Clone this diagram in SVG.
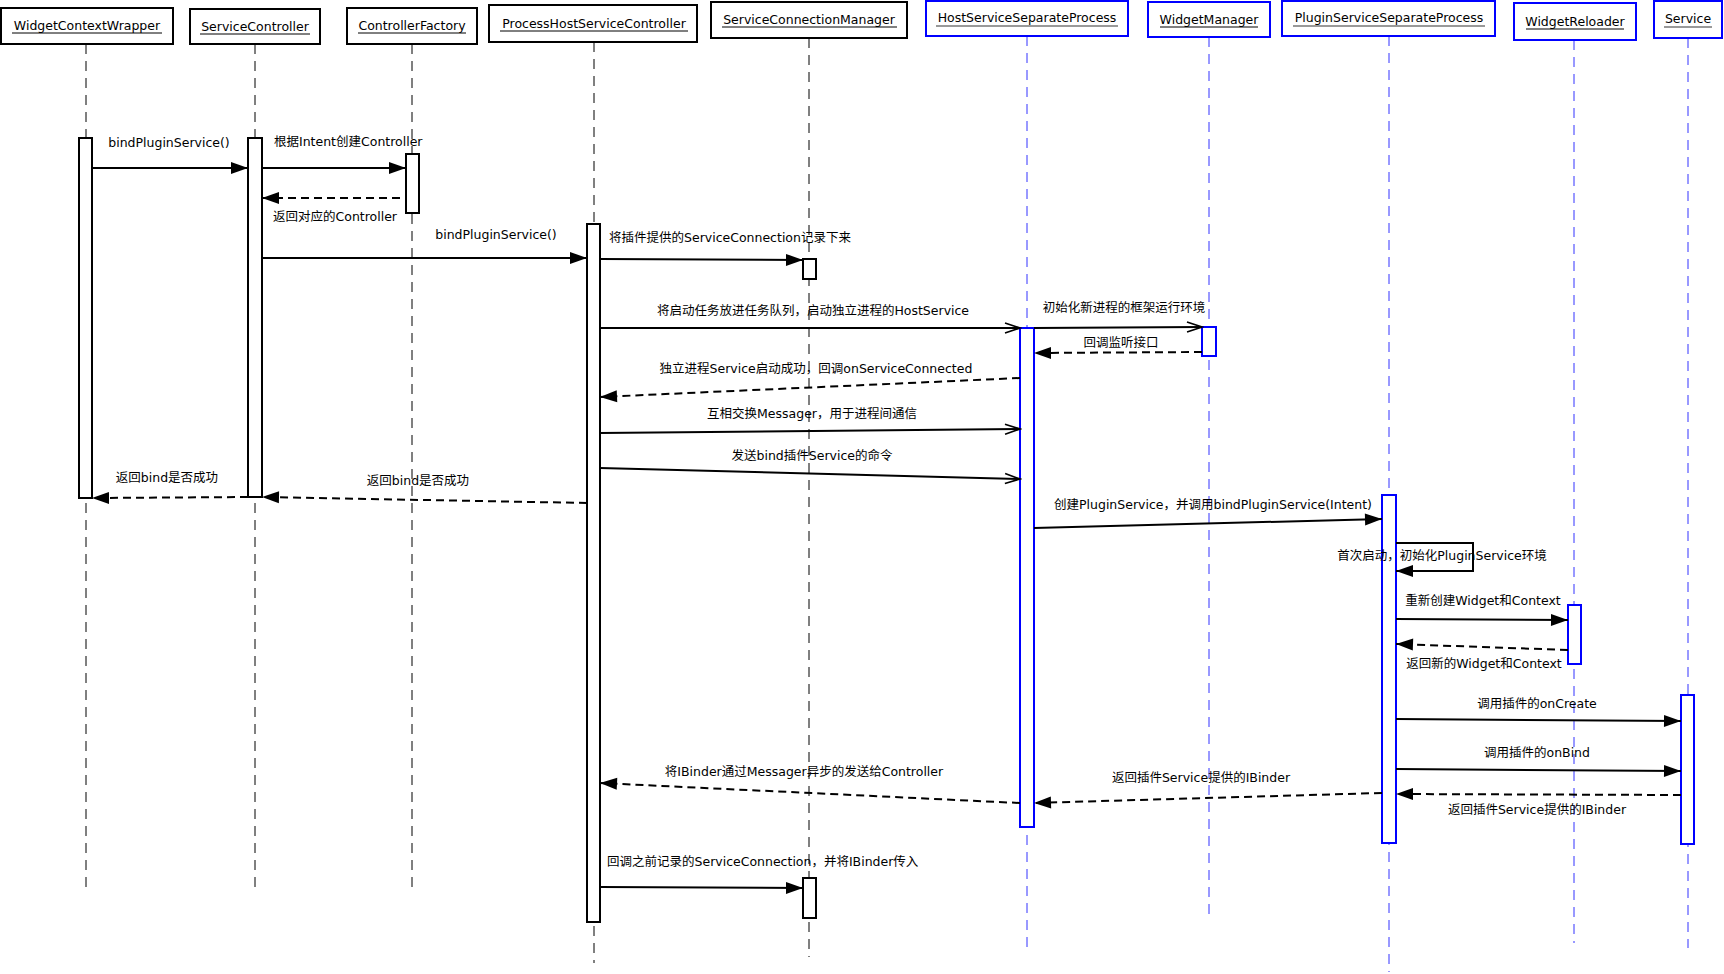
<svg xmlns="http://www.w3.org/2000/svg" width="1724" height="974" viewBox="0 0 1724 974">
<style>
text{font-family:"DejaVu Sans","Noto Sans CJK SC",sans-serif;font-size:12.5px;fill:#000}
.hb{fill:#fff;stroke:#000;stroke-width:2}
.hbb{fill:#fff;stroke:#0000ff;stroke-width:2}
.ll{stroke:#000;stroke-width:1;stroke-dasharray:10 7}
.llb{stroke:#3333ff;stroke-width:1;stroke-dasharray:10 7}
.act{fill:#fff;stroke:#000;stroke-width:2}
.actb{fill:#fff;stroke:#0000ff;stroke-width:2}
.m{stroke:#000;stroke-width:2;fill:none;marker-end:url(#fa)}
.ma{stroke:#000;stroke-width:2;fill:none;marker-end:url(#oa)}
.r{stroke:#000;stroke-width:2;fill:none;stroke-dasharray:8 5;marker-end:url(#fa)}
.ul{stroke:#000;stroke-width:1}
.ulg{stroke:#777;stroke-width:1.5}
</style>
<defs>
<marker id="fa" markerUnits="userSpaceOnUse" markerWidth="19" markerHeight="14" refX="18" refY="7" orient="auto"><path d="M1,1 L18,7 L1,13 z" fill="#000"/></marker>
<marker id="oa" markerUnits="userSpaceOnUse" markerWidth="18" markerHeight="14" refX="16" refY="7" orient="auto"><path d="M1,2 L16,7 L1,12" fill="none" stroke="#000" stroke-width="1.6"/></marker>
</defs>
<rect width="1724" height="974" fill="#fff"/>

<g id="lifelines">
<line class="ll" x1="86" y1="44" x2="86" y2="888"/>
<line class="ll" x1="255" y1="44" x2="255" y2="888"/>
<line class="ll" x1="412" y1="44" x2="412" y2="888"/>
<line class="ll" x1="594" y1="42" x2="594" y2="963"/>
<line class="ll" x1="809" y1="38" x2="809" y2="957"/>
<line class="llb" x1="1027" y1="36" x2="1027" y2="948"/>
<line class="llb" x1="1209" y1="37" x2="1209" y2="921"/>
<line class="llb" x1="1389" y1="36" x2="1389" y2="972"/>
<line class="llb" x1="1574" y1="40" x2="1574" y2="943"/>
<line class="llb" x1="1688" y1="38" x2="1688" y2="948"/>
</g>

<g id="WidgetContextWrapper">
<rect class="hb" x="1" y="8" width="172" height="36"/>
<text x="87" y="30" text-anchor="middle">WidgetContextWrapper</text>
<line class="ul" x1="12" y1="33" x2="162" y2="33"/>
<rect class="act" x="79" y="138" width="13" height="360"/>
</g>
<g id="ServiceController">
<rect class="hb" x="190" y="9" width="130" height="35"/>
<text x="255" y="31" text-anchor="middle">ServiceController</text>
<line class="ul" x1="200" y1="34" x2="310" y2="34"/>
<rect class="act" x="248" y="138" width="14" height="359"/>
</g>
<g id="ControllerFactory">
<rect class="hb" x="347" y="8" width="130" height="36"/>
<text x="412" y="30" text-anchor="middle">ControllerFactory</text>
<line class="ul" x1="358" y1="33" x2="466" y2="33"/>
<rect class="act" x="406" y="154" width="13" height="59"/>
</g>
<g id="ProcessHostServiceController">
<rect class="hb" x="489" y="5" width="208" height="37"/>
<text x="594" y="28" text-anchor="middle">ProcessHostServiceController</text>
<line class="ul" x1="500" y1="31" x2="688" y2="31"/>
<rect class="act" x="587" y="224" width="13" height="698"/>
</g>
<g id="ServiceConnectionManager">
<rect class="hb" x="711" y="2" width="196" height="36"/>
<text x="809" y="24" text-anchor="middle">ServiceConnectionManager</text>
<line class="ul" x1="722" y1="27" x2="897" y2="27"/>
<rect class="act" x="803" y="259" width="13" height="20"/>
<rect class="act" x="803" y="878" width="13" height="40"/>
</g>
<g id="HostServiceSeparateProcess">
<rect class="hbb" x="926" y="1" width="202" height="35"/>
<text x="1027" y="22" text-anchor="middle">HostServiceSeparateProcess</text>
<line class="ulg" x1="936" y1="26" x2="1118" y2="26"/>
<rect class="actb" x="1020" y="328" width="14" height="499"/>
</g>
<g id="WidgetManager">
<rect class="hbb" x="1148" y="2" width="122" height="35"/>
<text x="1209" y="24" text-anchor="middle">WidgetManager</text>
<line class="ul" x1="1160" y1="27" x2="1258" y2="27"/>
<rect class="actb" x="1202" y="327" width="14" height="29"/>
</g>
<g id="PluginServiceSeparateProcess">
<rect class="hbb" x="1282" y="1" width="213" height="35"/>
<text x="1389" y="22" text-anchor="middle">PluginServiceSeparateProcess</text>
<line class="ulg" x1="1293" y1="26" x2="1485" y2="26"/>
<rect class="actb" x="1382" y="495" width="14" height="348"/>
</g>
<g id="WidgetReloader">
<rect class="hbb" x="1514" y="3" width="122" height="37"/>
<text x="1575" y="26" text-anchor="middle">WidgetReloader</text>
<line class="ul" x1="1526" y1="29" x2="1624" y2="29"/>
<rect class="actb" x="1568" y="605" width="13" height="59"/>
</g>
<g id="Service">
<rect class="hbb" x="1654" y="1" width="68" height="37"/>
<text x="1688" y="23" text-anchor="middle">Service</text>
<line class="ulg" x1="1664" y1="27" x2="1712" y2="27"/>
<rect class="actb" x="1681" y="695" width="13" height="149"/>
</g>

<g id="connectors">
<line class="m" x1="92" y1="168" x2="248" y2="168"/>
<line class="m" x1="262" y1="168" x2="406" y2="168"/>
<line class="r" x1="400" y1="198" x2="262" y2="198"/>
<line class="m" x1="262" y1="258" x2="587" y2="258"/>
<line class="m" x1="600" y1="259" x2="803" y2="260"/>
<line class="ma" x1="600" y1="328" x2="1020" y2="328"/>
<line class="ma" x1="1034" y1="328" x2="1202" y2="327"/>
<line class="r" x1="1202" y1="352" x2="1034" y2="353"/>
<line class="r" x1="1020" y1="378" x2="600" y2="397"/>
<line class="ma" x1="600" y1="433" x2="1020" y2="429"/>
<line class="ma" x1="600" y1="468" x2="1020" y2="479"/>
<line class="r" x1="587" y1="503" x2="262" y2="497"/>
<line class="r" x1="248" y1="497" x2="92" y2="498"/>
<line class="m" x1="1034" y1="528" x2="1382" y2="519"/>
<path class="m" d="M1396,543 H1473 V571 H1396"/>
<line class="m" x1="1396" y1="619" x2="1568" y2="620"/>
<line class="r" x1="1568" y1="650" x2="1396" y2="644"/>
<line class="m" x1="1396" y1="719" x2="1681" y2="721"/>
<line class="m" x1="1396" y1="769" x2="1681" y2="771"/>
<line class="r" x1="1681" y1="795" x2="1396" y2="794"/>
<line class="r" x1="1382" y1="793" x2="1034" y2="803"/>
<line class="r" x1="1020" y1="803" x2="600" y2="783"/>
<line class="m" x1="600" y1="887" x2="803" y2="888"/>
</g>

<g id="labels">
<text x="169" y="147" text-anchor="middle">bindPluginService()</text>
<text x="274" y="146">根据Intent创建Controller</text>
<text x="273" y="221">返回对应的Controller</text>
<text x="496" y="239" text-anchor="middle">bindPluginService()</text>
<text x="609" y="242">将插件提供的ServiceConnection记录下来</text>
<text x="813" y="315" text-anchor="middle">将启动任务放进任务队列，启动独立进程的HostService</text>
<text x="1124" y="312" text-anchor="middle">初始化新进程的框架运行环境</text>
<text x="1121" y="347" text-anchor="middle">回调监听接口</text>
<text x="816" y="373" text-anchor="middle">独立进程Service启动成功，回调onServiceConnected</text>
<text x="812" y="418" text-anchor="middle">互相交换Messager，用于进程间通信</text>
<text x="812" y="460" text-anchor="middle">发送bind插件Service的命令</text>
<text x="418" y="485" text-anchor="middle">返回bind是否成功</text>
<text x="167" y="482" text-anchor="middle">返回bind是否成功</text>
<text x="1213" y="509" text-anchor="middle">创建PluginService，并调用bindPluginService(Intent)</text>
<text x="1442" y="560" text-anchor="middle">首次启动，初始化PluginService环境</text>
<text x="1483" y="605" text-anchor="middle">重新创建Widget和Context</text>
<text x="1484" y="668" text-anchor="middle">返回新的Widget和Context</text>
<text x="1537" y="708" text-anchor="middle">调用插件的onCreate</text>
<text x="1537" y="757" text-anchor="middle">调用插件的onBind</text>
<text x="1537" y="814" text-anchor="middle">返回插件Service提供的IBinder</text>
<text x="1201" y="782" text-anchor="middle">返回插件Service提供的IBinder</text>
<text x="804" y="776" text-anchor="middle">将IBinder通过Messager异步的发送给Controller</text>
<text x="607" y="866">回调之前记录的ServiceConnection，并将IBinder传入</text>
</g>
</svg>
